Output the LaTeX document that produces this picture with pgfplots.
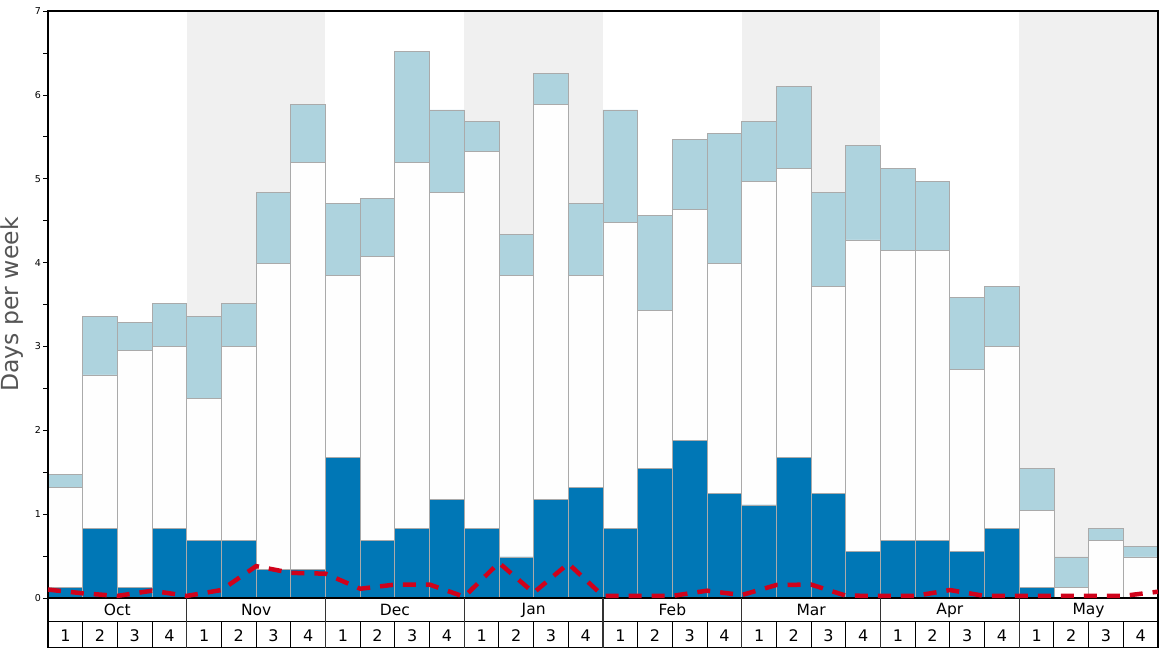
\documentclass[border=0pt]{standalone}
\usepackage{pgfplots}
\pgfplotsset{compat=1.18}
\usepackage{fontspec}
\setmainfont{DejaVu Sans}
\definecolor{dkblue}{RGB}{0,119,182}
\definecolor{ltblue}{RGB}{174,211,222}
\definecolor{bgshade}{RGB}{240,240,240}
\definecolor{redl}{RGB}{208,2,27}
\definecolor{edge}{RGB}{170,170,170}
\definecolor{lblgray}{RGB}{85,85,85}

% weekly stacks: low (dark), mid (white), top (light)
\pgfplotstableread{
x low mid top
0  0.13 1.19 0.15
1  0.83 1.83 0.70
2  0.13 2.82 0.34
3  0.83 2.17 0.51
4  0.69 1.69 0.98
5  0.69 2.31 0.51
6  0.34 3.65 0.85
7  0.34 4.85 0.70
8  1.68 2.17 0.85
9  0.69 3.38 0.70
10 0.83 4.36 1.33
11 1.18 3.66 0.98
12 0.83 4.50 0.35
13 0.49 3.36 0.49
14 1.18 4.71 0.36
15 1.32 2.53 0.85
16 0.83 3.65 1.34
17 1.54 1.89 1.13
18 1.88 2.75 0.84
19 1.25 2.74 1.55
20 1.11 3.86 0.71
21 1.68 3.44 0.98
22 1.25 2.46 1.13
23 0.55 3.72 1.13
24 0.69 3.45 0.98
25 0.69 3.45 0.83
26 0.55 2.18 0.85
27 0.83 2.17 0.71
28 0.13 0.91 0.50
29 0.00 0.13 0.36
30 0.00 0.69 0.14
31 0.00 0.49 0.13
}\weeks

\pgfplotsset{base/.style={
  at={(0,0)}, anchor=south west,
  scale only axis, width=1110pt, height=587pt,
  xmin=-0.5, xmax=31.5, ymin=0, ymax=7,
}}

\begin{document}
\begin{tikzpicture}[x=1pt,y=1pt]
\useasboundingbox (-48,-50) rectangle (1120,598);
% month background bands
\begin{axis}[base, axis lines=none]
\fill[bgshade] (axis cs:3.5,0) rectangle (axis cs:7.5,7);
\fill[bgshade] (axis cs:11.5,0) rectangle (axis cs:15.5,7);
\fill[bgshade] (axis cs:19.5,0) rectangle (axis cs:23.5,7);
\fill[bgshade] (axis cs:27.5,0) rectangle (axis cs:31.5,7);
\end{axis}
\begin{axis}[
  base,
  ybar stacked, bar width=1,
  clip=false, axis on top,
  xtick=\empty, ytick pos=left,
  ytick={0,...,7}, minor ytick={0.5,1.5,...,6.5},
  tick align=outside, major tick length=4.5pt, minor tick length=4.5pt,
  tick style={black, line width=0.7pt},
  yticklabel style={font=\fontsize{9.5}{10}\selectfont, xshift=1pt},
  /pgf/number format/assume math mode=true,
  axis line style={black, line width=1.3pt},
]
\addplot[fill=dkblue, draw=edge, line width=0.8pt] table[x=x, y=low] {\weeks};
\addplot[fill=white!99!gray, draw=edge, line width=0.8pt] table[x=x, y=mid] {\weeks};
\addplot[fill=ltblue, draw=edge, line width=0.8pt] table[x=x, y=top] {\weeks};
\end{axis}
\begin{axis}[base, axis lines=none, clip=false]
\addplot[redl, line width=4.5pt, dash pattern=on 13pt off 10pt, mark=none] coordinates {
(-0.5,0.10) (0.5,0.056) (1.5,0.025) (2.5,0.087) (3.5,0.025) (4.5,0.095)
(5.5,0.38) (6.5,0.30) (7.5,0.29) (8.5,0.11) (9.5,0.16) (10.5,0.16)
(11.5,0.015) (12.5,0.42) (13.5,0.063) (14.5,0.41) (15.5,0.025) (16.5,0.025)
(17.5,0.025) (18.5,0.087) (19.5,0.035) (20.5,0.155) (21.5,0.16) (22.5,0.028)
(23.5,0.025) (24.5,0.025) (25.5,0.095) (26.5,0.025) (27.5,0.025) (28.5,0.025)
(29.5,0.025) (30.5,0.025) (31.5,0.075)
};
\end{axis}
\node[rotate=90, font=\fontsize{23.5}{25}\selectfont, text=lblgray] at (-36,293.5) {Days per week};
% month / week boxes under the plot
\draw[black, line width=1pt] (0,-24) -- (1110,-24);
\draw[black, line width=1pt] (0,-49.5) -- (1110,-49.5);
\foreach \k in {1,...,31} {
  \draw[black, line width=1pt] ({34.6875*\k},-24) -- ({34.6875*\k},-50);
}
\foreach \k in {4,8,...,28} {
  \draw[black!80, line width=1.3pt] ({34.6875*\k},0) -- ({34.6875*\k},-50);
}
\draw[black, line width=1.6pt] (0,0) -- (0,-50);
\draw[black, line width=1.6pt] (1110,0) -- (1110,-50);
\foreach \m [count=\i from 0] in {Oct,Nov,Dec,Jan,Feb,Mar,Apr,May} {
  \node[font=\fontsize{15.5}{17}\selectfont] at ({34.6875*(4*\i+2)},-12) {\m};
  \foreach \w in {1,2,3,4} {
    \node[font=\fontsize{16}{18}\selectfont] at ({34.6875*(4*\i+\w-0.5)},-37.5) {\w};
  }
}
\end{tikzpicture}
\end{document}
